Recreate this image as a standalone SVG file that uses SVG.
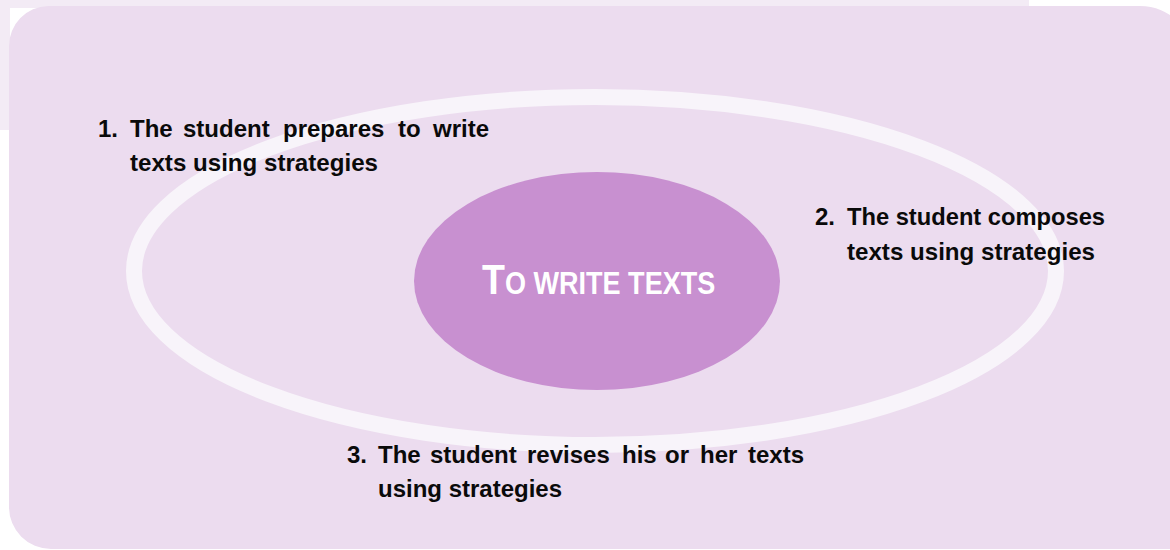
<svg xmlns="http://www.w3.org/2000/svg" width="1170" height="550" viewBox="0 0 1170 550">
  <style>
    .lbl { font-family: "Liberation Sans", Arial, sans-serif; font-weight: bold; font-size: 24px; fill: #0a0a0a; }
    .title { font-family: "Liberation Sans", Arial, sans-serif; font-weight: bold; fill: #ffffff; }
  </style>
  <rect x="0" y="0" width="1170" height="550" fill="#ffffff"/>
  <rect x="0" y="0" width="1029" height="8" fill="#f3ebf5"/>
  <rect x="0" y="0" width="10" height="130" fill="#f3ebf5"/>
  <path d="M48,6 L1140,6 A55,55 0 0 1 1195,61 L1195,549 L51,549 A42,42 0 0 1 9,507 L9,46 A40,40 0 0 1 48,6 Z" fill="#ecdcef"/>
  <g id="cycle-ring">
    <ellipse cx="595" cy="271" rx="461" ry="174" fill="none" stroke="#f8f4fa" stroke-width="16"/>
  </g>
  <g id="center">
    <ellipse cx="597" cy="281" rx="183" ry="109" fill="#c890d0"/>
    <text class="title" transform="translate(482,294) scale(0.873,1)" x="0" y="0"><tspan font-size="43">T</tspan><tspan font-size="31">O WRITE TEXTS</tspan></text>
  </g>
  <g id="step1">
    <text class="lbl" y="137"><tspan x="98">1.</tspan><tspan x="130">The</tspan><tspan x="183">student</tspan><tspan x="283">prepares</tspan><tspan x="398">to</tspan><tspan x="433">write</tspan></text>
    <text class="lbl" x="130" y="171" textLength="248" lengthAdjust="spacingAndGlyphs">texts using strategies</text>
  </g>
  <g id="step2">
    <text class="lbl" y="225"><tspan x="815">2.</tspan><tspan x="847" textLength="258" lengthAdjust="spacingAndGlyphs">The student composes</tspan></text>
    <text class="lbl" x="847" y="260" textLength="248" lengthAdjust="spacingAndGlyphs">texts using strategies</text>
  </g>
  <g id="step3">
    <text class="lbl" y="463"><tspan x="347">3.</tspan><tspan x="378">The</tspan><tspan x="430">student</tspan><tspan x="527">revises</tspan><tspan x="622">his</tspan><tspan x="665">or</tspan><tspan x="700">her</tspan><tspan x="748">texts</tspan></text>
    <text class="lbl" x="378" y="497">using strategies</text>
  </g>
  <g id="connectors"/>
</svg>
